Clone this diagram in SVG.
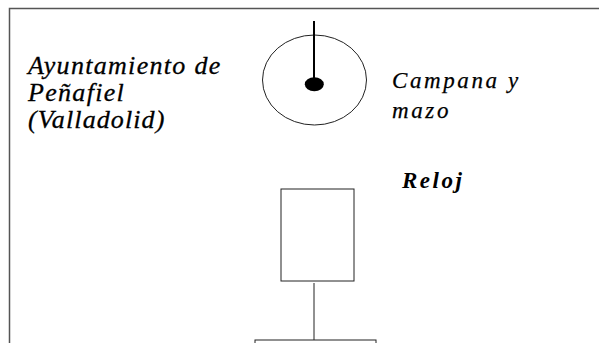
<svg xmlns="http://www.w3.org/2000/svg" width="599" height="343" viewBox="0 0 599 343">
<rect width="599" height="343" fill="#fff"/>
<g id="frame"><path d="M9.5 343 V8.5 H599" fill="none" stroke="#555" stroke-width="1.5"/></g>
<g id="ayuntamiento">
<text x="28" y="74" font-family="Liberation Serif" font-style="italic" font-size="26" fill="#000" stroke="#000" stroke-width="0.3" dx="0 1.3 1.3 1.3 1.3 1.3 1.3 1.3 1.3 1.3 1.3 1.3 1.3 1.3 1.3">Ayuntamiento de</text>
<text x="28" y="101" font-family="Liberation Serif" font-style="italic" font-size="26" fill="#000" stroke="#000" stroke-width="0.3" dx="0 1.3 1.3 1.3 1.3 1.3 1.3 1.3">Peñafiel</text>
<text x="28" y="128" font-family="Liberation Serif" font-style="italic" font-size="26" fill="#000" stroke="#000" stroke-width="0.3" dx="0 1.1 1.1 1.1 1.1 1.1 1.1 1.1 1.1 1.1 1.1 1.1">(Valladolid)</text>
</g>
<g id="campana-label">
<text x="392" y="88" font-family="Liberation Serif" font-style="italic" font-size="23" fill="#000" stroke="#000" stroke-width="0.25" dx="0 2.6 2.6 2.6 2.6 2.6 2.6 2.6 2.6">Campana y</text>
<text x="392" y="118" font-family="Liberation Serif" font-style="italic" font-size="23" fill="#000" stroke="#000" stroke-width="0.25" dx="0 2.6 2.6 2.6">mazo</text>
</g>
<g id="reloj-label"><text x="402" y="188" font-family="Liberation Serif" font-style="italic" font-weight="bold" font-size="23" fill="#000" dx="0 2.5 2.5 2.5 2.5">Reloj</text></g>
<g id="campana">
<ellipse cx="314.5" cy="80" rx="52" ry="45" fill="none" stroke="#222" stroke-width="1"/>
<line x1="314" y1="21" x2="314" y2="84" stroke="#000" stroke-width="2"/>
<ellipse cx="314.3" cy="84.3" rx="9.5" ry="7" fill="#000"/>
</g>
<g id="reloj"><rect x="281" y="189" width="73" height="92" fill="none" stroke="#222" stroke-width="1"/></g>
<g id="base"><rect x="255" y="340" width="121" height="20" fill="none" stroke="#222" stroke-width="1"/></g>
<g id="connectors"><line x1="314" y1="283" x2="314" y2="340" stroke="#222" stroke-width="1"/></g>
</svg>
